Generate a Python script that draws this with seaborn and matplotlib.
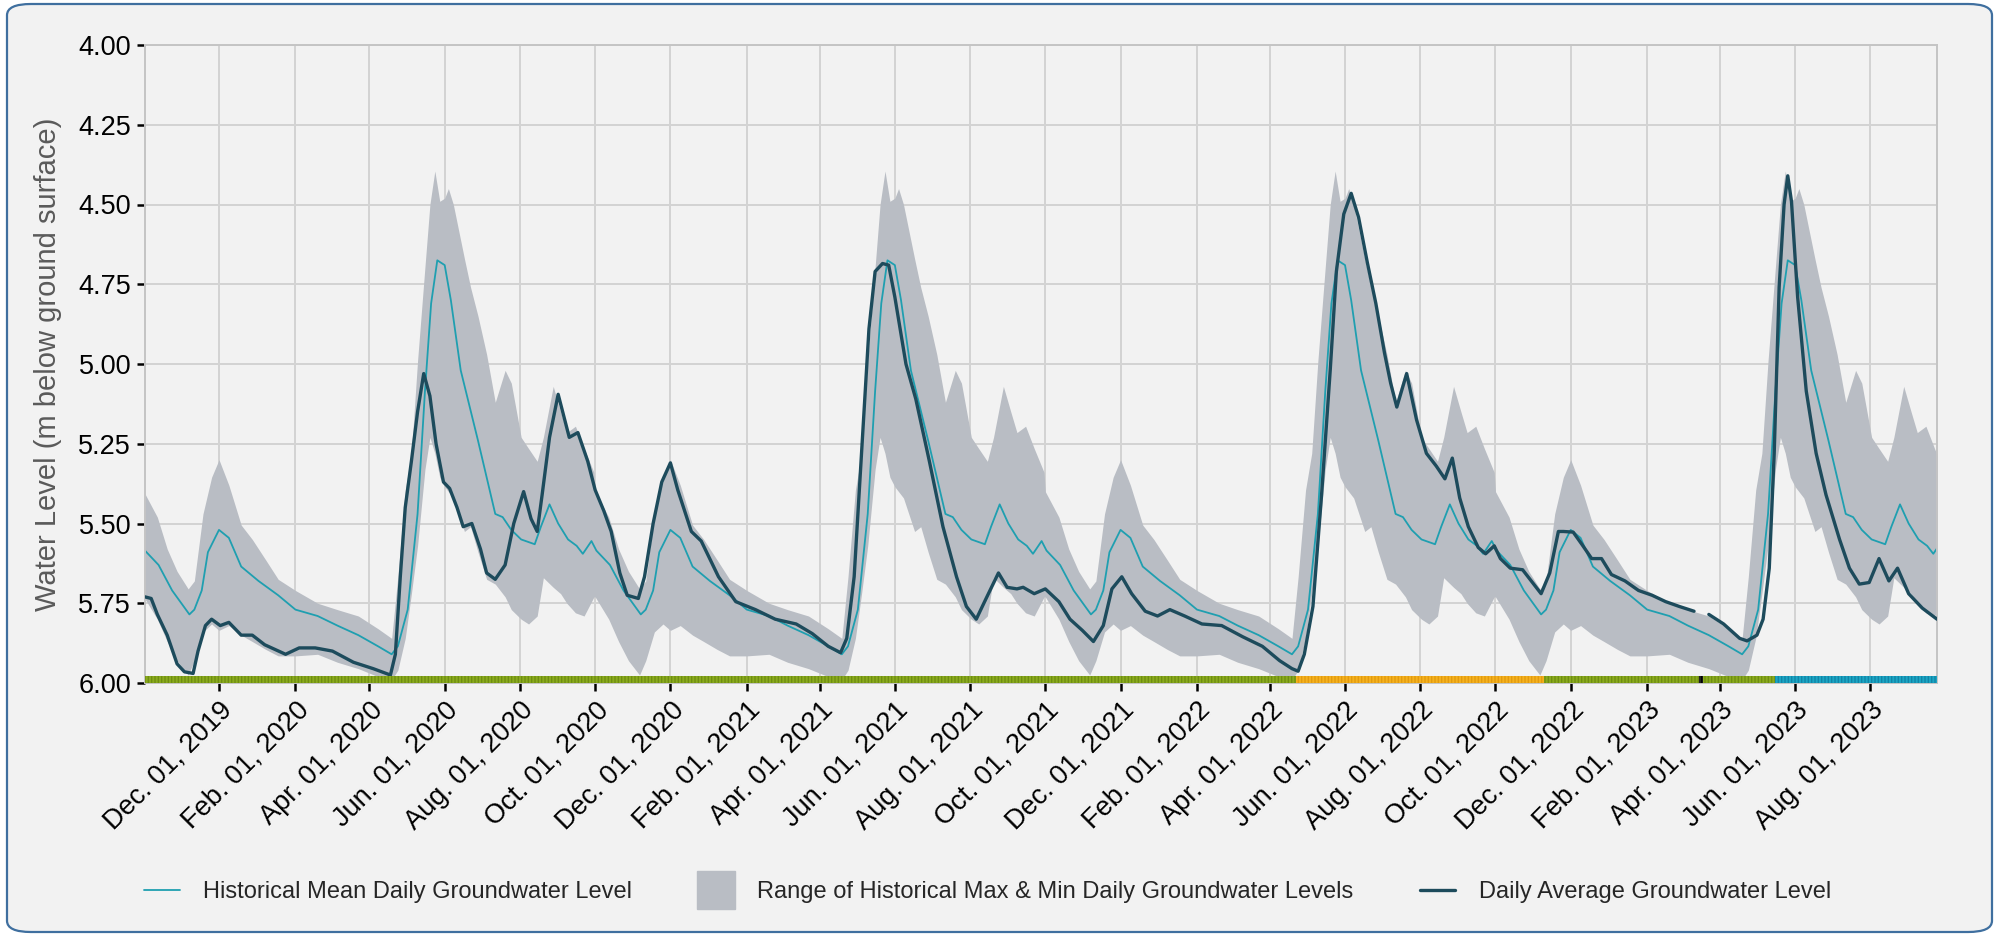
import pandas as pd
import numpy as np
import matplotlib
matplotlib.use("Agg")
import matplotlib.pyplot as plt
import matplotlib.dates as mdates
from matplotlib.lines import Line2D
from matplotlib.patches import FancyBboxPatch
from matplotlib.ticker import FuncFormatter
import seaborn as sns

# historical stats by calendar day (same curve every year)
hist_mean_md = ["10-02", "10-13", "10-24", "11-07", "11-11", "11-17", "11-22", "12-01", "12-09",
                "12-19", "01-02", "01-18", "02-01", "02-19", "03-06", "03-23", "04-08", "04-19",
                "04-24", "05-02", "05-10", "05-16", "05-21", "05-26", "06-01", "06-06", "06-14",
                "06-28", "07-12", "07-18", "07-25", "08-02", "08-13", "08-18", "08-25", "09-01",
                "09-09", "09-16", "09-21", "09-28"]
hist_mean = [5.585, 5.63, 5.71, 5.785, 5.77, 5.71, 5.59, 5.52, 5.545,
             5.635, 5.68, 5.725, 5.77, 5.79, 5.82, 5.85, 5.885, 5.91,
             5.885, 5.77, 5.47, 5.085, 4.81, 4.675, 4.69, 4.80, 5.02,
             5.24, 5.47, 5.48, 5.52, 5.55, 5.565, 5.51, 5.44, 5.50,
             5.55, 5.57, 5.595, 5.555]

band_md = ["10-01", "10-12", "10-20", "10-28", "11-06", "11-11", "11-18", "11-25", "12-01",
           "12-09", "12-19", "12-28", "01-08", "01-18", "02-01", "02-19", "03-06", "03-23",
           "04-08", "04-19", "04-24", "04-30", "05-05", "05-10", "05-16", "05-20", "05-24",
           "05-28", "06-01", "06-04", "06-08", "06-17", "06-22", "06-28", "07-05", "07-12",
           "07-20", "07-25", "08-02", "08-08", "08-15", "08-20", "08-28", "09-03", "09-08",
           "09-15", "09-22", "09-30"]
hist_max = [5.40, 5.48, 5.58, 5.65, 5.705, 5.68, 5.47, 5.355, 5.30,
            5.38, 5.505, 5.55, 5.615, 5.675, 5.71, 5.75, 5.77, 5.79,
            5.83, 5.86, 5.667, 5.395, 5.28, 4.99, 4.695, 4.50, 4.395,
            4.49, 4.48, 4.45, 4.50, 4.67, 4.76, 4.85, 4.97, 5.12,
            5.02, 5.06, 5.23, 5.265, 5.305, 5.23, 5.07, 5.15, 5.215,
            5.195, 5.265, 5.34]
hist_min = [5.73, 5.80, 5.87, 5.93, 5.975, 5.93, 5.84, 5.815, 5.835,
            5.82, 5.85, 5.87, 5.895, 5.915, 5.915, 5.91, 5.935, 5.955,
            5.98, 5.99, 5.96, 5.86, 5.72, 5.57, 5.33, 5.23, 5.28,
            5.355, 5.385, 5.40, 5.42, 5.525, 5.51, 5.59, 5.675, 5.69,
            5.73, 5.77, 5.80, 5.815, 5.79, 5.67, 5.70, 5.72, 5.75,
            5.78, 5.79, 5.73]

# daily average groundwater level (NaN = missing data)
daily_dates = [
    "2019-10-02", "2019-10-07", "2019-10-12", "2019-10-20", "2019-10-28", "2019-11-03",
    "2019-11-10", "2019-11-14", "2019-11-20", "2019-11-25", "2019-12-02", "2019-12-09",
    "2019-12-19", "2019-12-28", "2020-01-07", "2020-01-24", "2020-02-04", "2020-02-17",
    "2020-03-02", "2020-03-19", "2020-04-04", "2020-04-18", "2020-04-22", "2020-04-26",
    "2020-04-30", "2020-05-05", "2020-05-10", "2020-05-15", "2020-05-20", "2020-05-25",
    "2020-05-31", "2020-06-05", "2020-06-11", "2020-06-16", "2020-06-23", "2020-06-30",
    "2020-07-05", "2020-07-12", "2020-07-20", "2020-07-27", "2020-08-04", "2020-08-10",
    "2020-08-15", "2020-08-19", "2020-08-25", "2020-09-01", "2020-09-10", "2020-09-17",
    "2020-09-25", "2020-10-01", "2020-10-08", "2020-10-14", "2020-10-21", "2020-10-27",
    "2020-11-05", "2020-11-10", "2020-11-17", "2020-11-24", "2020-12-01", "2020-12-07",
    "2020-12-18", "2020-12-26", "2021-01-09", "2021-01-23", "2021-02-08", "2021-02-24",
    "2021-03-13", "2021-03-26", "2021-04-08", "2021-04-18", "2021-04-23", "2021-04-29",
    "2021-05-05", "2021-05-11", "2021-05-16", "2021-05-22", "2021-05-27", "2021-06-01",
    "2021-06-10", "2021-06-18", "2021-06-29", "2021-07-10", "2021-07-21", "2021-07-29",
    "2021-08-06", "2021-08-14", "2021-08-24", "2021-08-31", "2021-09-08", "2021-09-13",
    "2021-09-22", "2021-10-01", "2021-10-12", "2021-10-21", "2021-10-31", "2021-11-09",
    "2021-11-17", "2021-11-24", "2021-12-02", "2021-12-10", "2021-12-21", "2021-12-31",
    "2022-01-10", "2022-01-22", "2022-02-05", "2022-02-21", "2022-03-10", "2022-03-26",
    "2022-04-09", "2022-04-19", "2022-04-24", "2022-04-29", "2022-05-06", "2022-05-13",
    "2022-05-20", "2022-05-25", "2022-05-31", "2022-06-06", "2022-06-12", "2022-06-19",
    "2022-06-26", "2022-07-03", "2022-07-08", "2022-07-13", "2022-07-21", "2022-07-29",
    "2022-08-06", "2022-08-14", "2022-08-21", "2022-08-27", "2022-09-02", "2022-09-09",
    "2022-09-17", "2022-09-23", "2022-09-30", "2022-10-05", "2022-10-13", "2022-10-23",
    "2022-10-30", "2022-11-07", "2022-11-14", "2022-11-21", "2022-11-25", "2022-12-03",
    "2022-12-10", "2022-12-18", "2022-12-26", "2023-01-03", "2023-01-14", "2023-01-25",
    "2023-02-05", "2023-02-16", "2023-02-27", "2023-03-11", "2023-03-16", "2023-03-23",
    "2023-04-04", "2023-04-17", "2023-04-23", "2023-05-01", "2023-05-06", "2023-05-11",
    "2023-05-15", "2023-05-19", "2023-05-23", "2023-05-26", "2023-05-29", "2023-06-03",
    "2023-06-10", "2023-06-18", "2023-06-26", "2023-07-07", "2023-07-15", "2023-07-23",
    "2023-07-31", "2023-08-08", "2023-08-16", "2023-08-23", "2023-09-01", "2023-09-12",
    "2023-09-24"]
daily_level = [
    5.73, 5.735, 5.785, 5.85, 5.94, 5.965,
    5.97, 5.90, 5.82, 5.80, 5.82, 5.81,
    5.85, 5.85, 5.88, 5.91, 5.89, 5.89,
    5.90, 5.935, 5.955, 5.975, 5.91, 5.667,
    5.45, 5.305, 5.15, 5.03, 5.10, 5.25,
    5.37, 5.39, 5.45, 5.51, 5.50, 5.58,
    5.655, 5.675, 5.63, 5.50, 5.40, 5.485,
    5.525, 5.41, 5.23, 5.095, 5.23, 5.215,
    5.305, 5.395, 5.46, 5.525, 5.655, 5.725,
    5.735, 5.667, 5.50, 5.37, 5.31, 5.395,
    5.525, 5.555, 5.667, 5.745, 5.77, 5.80,
    5.815, 5.845, 5.885, 5.905, 5.86, 5.667,
    5.28, 4.89, 4.71, 4.685, 4.69, 4.79,
    5.00, 5.11, 5.305, 5.51, 5.667, 5.76,
    5.80, 5.735, 5.655, 5.70, 5.705, 5.70,
    5.72, 5.705, 5.745, 5.80, 5.835, 5.87,
    5.82, 5.705, 5.667, 5.72, 5.775, 5.79,
    5.77, 5.79, 5.815, 5.82, 5.855, 5.885,
    5.93, 5.955, 5.963, 5.91, 5.76, 5.41,
    5.02, 4.71, 4.53, 4.465, 4.54, 4.68,
    4.81, 4.965, 5.06, 5.135, 5.03, 5.175,
    5.28, 5.32, 5.36, 5.295, 5.42, 5.51,
    5.575, 5.595, 5.57, 5.61, 5.64, 5.645,
    5.68, 5.72, 5.655, 5.525, 5.525, 5.527,
    5.565, 5.61, 5.61, 5.66, 5.68, 5.71,
    5.725, 5.745, 5.76, 5.775, np.nan, 5.785,
    5.815, 5.86, 5.868, 5.85, 5.80, 5.64,
    5.28, 4.76, 4.50, 4.41, 4.49, 4.79,
    5.085, 5.28, 5.41, 5.55, 5.64, 5.69,
    5.685, 5.61, 5.68, 5.64, 5.72, 5.765,
    5.80]

# data status strip along the bottom
status_start = ["2019-10-01", "2022-04-22", "2022-11-09", "2023-03-15", "2023-03-18", "2023-05-16"]
status_end = ["2022-04-22", "2022-11-09", "2023-03-15", "2023-03-18", "2023-05-16", "2023-09-25"]
status_kind = ["normal", "low", "normal", "missing", "normal", "high"]

x_min, x_max = pd.Timestamp("2019-10-02"), pd.Timestamp("2023-09-24")

status_colors = {"normal": ("#8aab1e", "#6f8d12"), "low": ("#f5b21f", "#e29a10"),
                 "high": ("#1ba6c4", "#1284a6"), "missing": ("#222222", "#000000")}
mean_color = "#1f9fb0"
daily_color = "#1d4b5c"
band_color = "#b9bdc4"
bg = "#f2f2f2"


def by_year(md, **cols):
    rows = []
    for yr in range(2019, 2024):
        for i, d in enumerate(md):
            row = {"date": pd.Timestamp(f"{yr}-{d}")}
            for k, v in cols.items():
                row[k] = v[i]
            rows.append(row)
    df = pd.DataFrame(rows).sort_values("date")
    lo = df[df.date < x_min].date.max()
    hi = df[df.date > x_max].date.min()
    return df[(df.date >= lo) & (df.date <= hi)].reset_index(drop=True)


mean_df = by_year(hist_mean_md, level=hist_mean)
band_df = by_year(band_md, hi=hist_max, lo=hist_min)

daily_df = pd.DataFrame({"date": pd.to_datetime(daily_dates), "level": daily_level})
daily_df["segment"] = daily_df.level.isna().cumsum()
daily_df = daily_df.dropna()

sns.set_style("whitegrid")
plt.rcParams["font.family"] = ["Liberation Sans", "DejaVu Sans"]
plt.rcParams["hatch.linewidth"] = 1.0

fig = plt.figure(figsize=(19.99, 9.36), dpi=100, facecolor="white")
frame = FancyBboxPatch((7 / 1999, 4 / 936), 1985 / 1999, 928 / 936,
                       boxstyle="round,pad=0,rounding_size=0.012",
                       transform=fig.transFigure, facecolor=bg,
                       edgecolor="#3f6f9f", linewidth=1.6, zorder=-10)
fig.patches.append(frame)
ax = fig.add_axes([145 / 1999, 1 - 683 / 936, 1792 / 1999, 638 / 936])
ax.set_zorder(5)
ax.set_facecolor(bg)
ax.set_axisbelow(True)

ax.fill_between(band_df.date, band_df.lo, band_df.hi, color=band_color, lw=0, zorder=1)
sns.lineplot(data=mean_df, x="date", y="level", ax=ax, color=mean_color, lw=1.3, zorder=2)
sns.lineplot(data=daily_df, x="date", y="level", units="segment", estimator=None, ax=ax,
             color=daily_color, lw=2.4, zorder=3)

for s, e, k in zip(status_start, status_end, status_kind):
    face, edge = status_colors[k]
    ax.axvspan(pd.Timestamp(s), pd.Timestamp(e), ymin=0, ymax=0.011, facecolor=face,
               edgecolor=edge, hatch="|||||", lw=0, zorder=4)

ax.set_xlim(x_min, x_max)
ax.set_ylim(6.0, 4.0)
ax.set_yticks([4.0, 4.25, 4.5, 4.75, 5.0, 5.25, 5.5, 5.75, 6.0])
ax.yaxis.set_major_formatter(FuncFormatter(lambda v, p: f"{v:.2f}"))
ax.xaxis.set_major_locator(mdates.MonthLocator(bymonth=(2, 4, 6, 8, 10, 12)))
ax.xaxis.set_major_formatter(FuncFormatter(lambda v, p: mdates.num2date(v).strftime("%b. %d, %Y")))

ax.grid(True, color="#d3d3d3", lw=1.4)
for sp in ax.spines.values():
    sp.set_color("#c4c4c4")
    sp.set_linewidth(1.4)
ax.tick_params(axis="both", which="major", length=6, width=1.8, color="black",
               labelcolor="black", bottom=True, left=True, pad=4)
ax.tick_params(axis="y", labelsize=19.5)
ax.tick_params(axis="x", labelsize=19.5)
plt.setp(ax.get_xticklabels(), rotation=45, ha="right", rotation_mode="anchor")

ax.set_xlabel("")
ax.set_ylabel("Water Level (m below ground surface)", fontsize=21, color="#5a5a5a", labelpad=12)

handles = [
    Line2D([], [], color=mean_color, lw=1.3),
    Line2D([], [], color=band_color, marker="s", markersize=27, linestyle="none"),
    Line2D([], [], color=daily_color, lw=2.4),
]
labels = ["Historical Mean Daily Groundwater Level",
          "Range of Historical Max & Min Daily Groundwater Levels",
          "Daily Average Groundwater Level"]
fig.legend(handles, labels, loc="center", bbox_to_anchor=(0.494, 1 - 892 / 936), ncol=3,
           frameon=False, handlelength=1.5, handletextpad=1.0, columnspacing=2.8,
           prop={"family": ["Liberation Sans Narrow", "Liberation Sans"], "size": 17})

fig.savefig("out.png", dpi=100, facecolor="white")
